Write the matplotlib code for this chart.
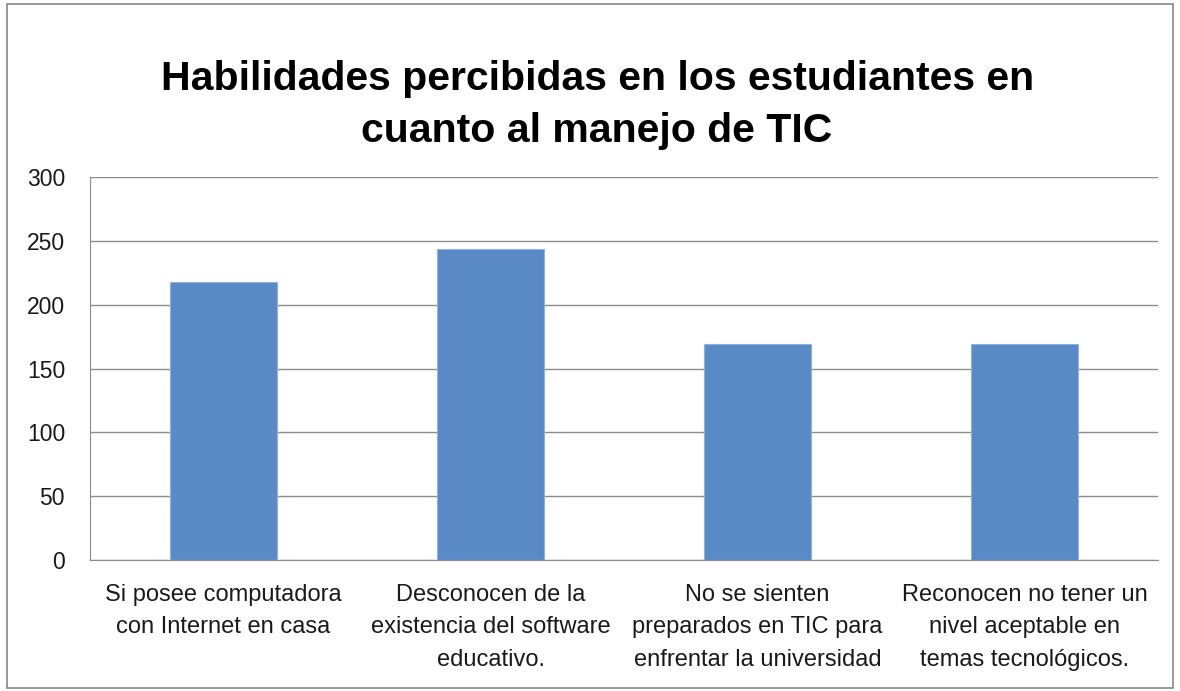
import matplotlib
matplotlib.use("Agg")
import matplotlib.pyplot as plt
from matplotlib.patches import Rectangle

categories = [
    "Si posee computadora\ncon Internet en casa",
    "Desconocen de la\nexistencia del software\neducativo.",
    "No se sienten\npreparados en TIC para\nenfrentar la universidad",
    "Reconocen no tener un\nnivel aceptable en\ntemas tecnológicos.",
]
values = [218, 244, 169, 169]
yticks = [0, 50, 100, 150, 200, 250, 300]
title = "Habilidades percibidas en los estudiantes en\ncuanto al manejo de TIC"

plt.rcParams["font.family"] = ["Liberation Sans", "DejaVu Sans"]

fig = plt.figure(figsize=(11.8, 6.91), dpi=100)
# marco exterior del gráfico
fig.patches.append(Rectangle((0.006, 0.004), 0.988, 0.99, transform=fig.transFigure,
                             fill=False, edgecolor="#868686", lw=1.2))

ax = fig.add_axes([0.0763, 0.1896, 0.9051, 0.5542])
x = range(len(categories))
ax.bar(x, values, width=0.4, color="#5a8ac6", edgecolor="#8fb2dc", lw=0.8, zorder=3)
ax.set_xlim(-0.5, len(categories) - 0.5)
ax.set_ylim(0, 300)
ax.set_yticks(yticks)
ax.yaxis.grid(True, color="#8c8c8c", lw=1, zorder=0)
ax.set_xticks(list(x))
ax.set_xticklabels(categories, fontsize=17, linespacing=1.62, color="#1a1a1a")
ax.tick_params(axis="y", labelsize=16.5, length=0, pad=18, labelcolor="#1a1a1a")
ax.tick_params(axis="x", length=0, pad=17)
for s in ("top", "right"):
    ax.spines[s].set_visible(False)
for s in ("left", "bottom"):
    ax.spines[s].set_color("#8c8c8c")
ax.set_axisbelow(True)

fig.text(0.506, 0.848, title, ha="center", va="center", fontsize=29.5,
         fontweight="bold", linespacing=1.45)

fig.savefig("out.png", dpi=100)
